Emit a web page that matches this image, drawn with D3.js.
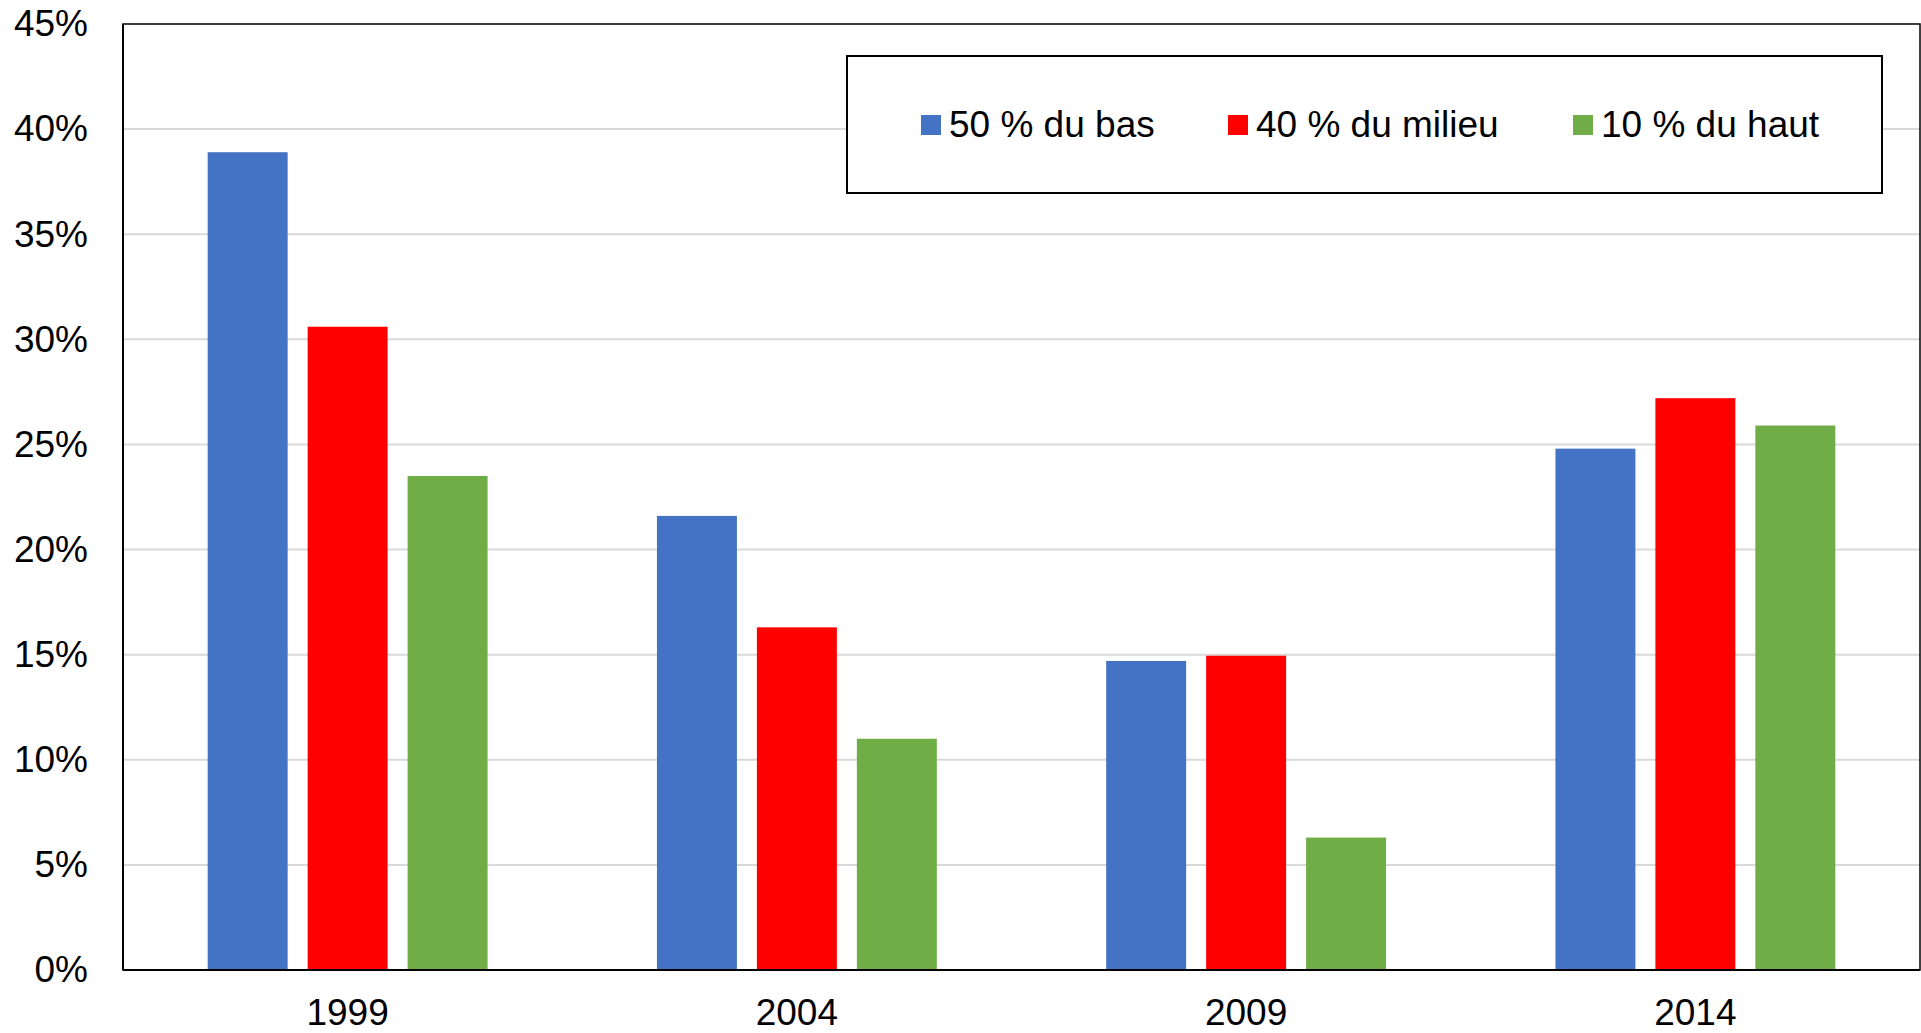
<!DOCTYPE html>
<html>
<head>
<meta charset="utf-8">
<script src="https://cdn.jsdelivr.net/npm/d3@7"></script>
<style>
  html, body { margin: 0; padding: 0; background: #fff; }
  svg { display: block; font-family: "Liberation Sans", Arial, sans-serif; }
</style>
</head>
<body>
<svg id="chart" width="1921" height="1033"></svg>
<script>
const categories = ["1999", "2004", "2009", "2014"];
const seriesNames = ["50 % du bas", "40 % du milieu", "10 % du haut"];
const seriesColors = ["#4472C4", "#FF0000", "#70AD47"];
const bas50 = [38.9, 21.6, 14.7, 24.8];
const milieu40 = [30.6, 16.3, 14.95, 27.2];
const haut10 = [23.5, 11.0, 6.3, 25.9];
const yTicks = [0, 5, 10, 15, 20, 25, 30, 35, 40, 45];

const seriesValues = [bas50, milieu40, haut10];

const svg = d3.select("#chart");
const pLeft = 123, pTop = 24, pRight = 1920, pBottom = 970;
const fontSize = 37;

const x0 = d3.scaleBand().domain(categories).range([pLeft, pRight])
  .paddingInner(0.377).paddingOuter(0.1885);
const x1 = d3.scaleBand().domain(d3.range(seriesNames.length)).range([0, x0.bandwidth()])
  .paddingInner(0.2).paddingOuter(0);
const y = d3.scaleLinear().domain([0, 45]).range([pBottom, pTop]);

// gridlines
svg.append("g").selectAll("line").data(yTicks.filter(d => d > 0 && d < 45)).join("line")
  .attr("x1", pLeft).attr("x2", pRight)
  .attr("y1", d => y(d)).attr("y2", d => y(d))
  .attr("stroke", "#d9d9d9").attr("stroke-width", 2);

// bars
const groups = svg.append("g").selectAll("g").data(categories).join("g")
  .attr("transform", d => `translate(${x0(d)},0)`);
groups.selectAll("rect").data((c, ci) => seriesValues.map((s, si) => ({si, v: s[ci]}))).join("rect")
  .attr("x", d => x1(d.si))
  .attr("width", x1.bandwidth())
  .attr("y", d => y(d.v))
  .attr("height", d => y(0) - y(d.v))
  .attr("fill", d => seriesColors[d.si]);

// plot border
svg.append("rect").attr("x", pLeft).attr("y", pTop)
  .attr("width", pRight - pLeft).attr("height", pBottom - pTop)
  .attr("fill", "none").attr("stroke", "#000").attr("stroke-width", 1.5);
svg.append("line").attr("x1", pLeft).attr("x2", pLeft).attr("y1", pTop).attr("y2", pBottom)
  .attr("stroke", "#000").attr("stroke-width", 2);
svg.append("line").attr("x1", pLeft).attr("x2", pRight).attr("y1", pBottom).attr("y2", pBottom)
  .attr("stroke", "#000").attr("stroke-width", 2);

// y axis labels
const yAxis = d3.axisLeft(y).tickValues(yTicks).tickFormat(d => d + "%").tickSize(0).tickPadding(35);
const gy = svg.append("g").attr("transform", `translate(${pLeft},0)`).call(yAxis);
gy.select(".domain").remove();
gy.selectAll("text").attr("font-size", fontSize).attr("fill", "#000")
  .attr("font-family", "'Liberation Sans', Arial, sans-serif");

// x axis labels
const xAxis = d3.axisBottom(x0).tickSize(0).tickPadding(29);
const gx = svg.append("g").attr("transform", `translate(0,${pBottom})`).call(xAxis);
gx.select(".domain").remove();
gx.selectAll("text").attr("font-size", fontSize).attr("fill", "#000")
  .attr("font-family", "'Liberation Sans', Arial, sans-serif");

// legend
const legend = svg.append("g");
legend.append("rect").attr("x", 847).attr("y", 56).attr("width", 1035).attr("height", 137)
  .attr("fill", "#fff").attr("stroke", "#000").attr("stroke-width", 2);
const legendX = [921, 1228, 1573];
const items = legend.selectAll("g.item").data(seriesNames).join("g").attr("class", "item")
  .attr("transform", (d, i) => `translate(${legendX[i]},0)`);
items.append("rect").attr("x", 0).attr("y", 115).attr("width", 20).attr("height", 20)
  .attr("fill", (d, i) => seriesColors[i]);
items.append("text").attr("x", 28).attr("y", 137).attr("font-size", fontSize).attr("fill", "#000")
  .text(d => d);
</script>
</body>
</html>
